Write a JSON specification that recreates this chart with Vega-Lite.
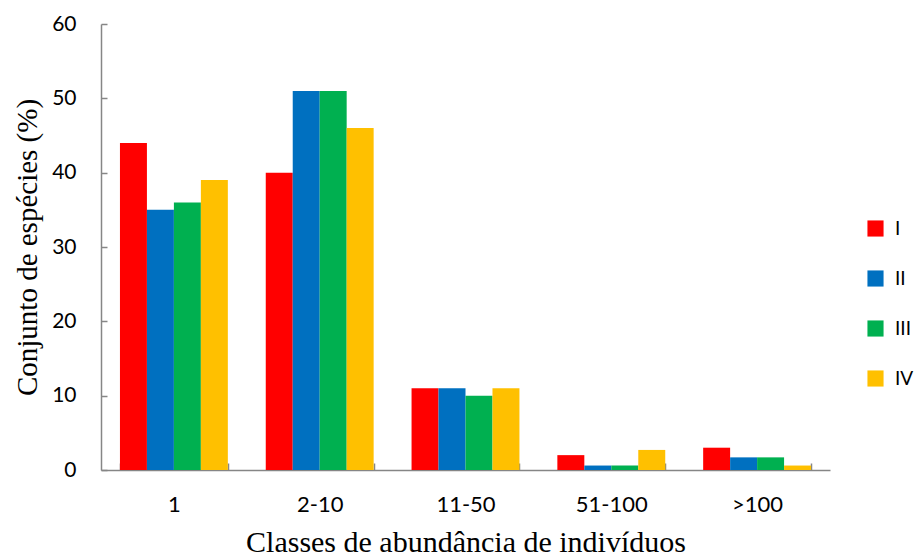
{
  "$schema": "https://vega.github.io/schema/vega-lite/v6.json",
  "autosize": "none",
  "width": 729,
  "height": 446,
  "padding": {"left": 101, "top": 24, "right": 89, "bottom": 90},
  "background": "white",
  "data": {"values": [
    {"classe": "1", "grupo": "I", "valor": 44},
    {"classe": "1", "grupo": "II", "valor": 35},
    {"classe": "1", "grupo": "III", "valor": 36},
    {"classe": "1", "grupo": "IV", "valor": 39},
    {"classe": "2-10", "grupo": "I", "valor": 40},
    {"classe": "2-10", "grupo": "II", "valor": 51},
    {"classe": "2-10", "grupo": "III", "valor": 51},
    {"classe": "2-10", "grupo": "IV", "valor": 46},
    {"classe": "11-50", "grupo": "I", "valor": 11},
    {"classe": "11-50", "grupo": "II", "valor": 11},
    {"classe": "11-50", "grupo": "III", "valor": 10},
    {"classe": "11-50", "grupo": "IV", "valor": 11},
    {"classe": "51-100", "grupo": "I", "valor": 2},
    {"classe": "51-100", "grupo": "II", "valor": 0.6},
    {"classe": "51-100", "grupo": "III", "valor": 0.6},
    {"classe": "51-100", "grupo": "IV", "valor": 2.7},
    {"classe": ">100", "grupo": "I", "valor": 3},
    {"classe": ">100", "grupo": "II", "valor": 1.7},
    {"classe": ">100", "grupo": "III", "valor": 1.7},
    {"classe": ">100", "grupo": "IV", "valor": 0.6}
  ]},
  "mark": {"type": "bar"},
  "encoding": {
    "x": {
      "field": "classe", "type": "nominal",
      "sort": ["1", "2-10", "11-50", "51-100", ">100"],
      "scale": {"paddingInner": 0.26, "paddingOuter": 0.13},
      "axis": {
        "title": "Classes de abundância de indivíduos",
        "titleFont": "Liberation Serif", "titleFontSize": 30, "titleFontWeight": "normal",
        "titleColor": "black", "titlePadding": 12,
        "labelAngle": 0, "labelFont": "Lato", "labelFontSize": 22, "labelColor": "black",
        "labelPadding": 31,
        "tickBand": "extent", "tickSize": -7, "tickColor": "#868686",
        "domainColor": "#868686", "domainWidth": 1.5, "tickWidth": 1.5
      }
    },
    "xOffset": {"field": "grupo", "type": "nominal", "scale": {"paddingInner": 0, "paddingOuter": 0}},
    "y": {
      "field": "valor", "type": "quantitative",
      "scale": {"domain": [0, 60]},
      "axis": {
        "values": [0, 10, 20, 30, 40, 50, 60],
        "grid": false,
        "title": "Conjunto de espécies  (%)",
        "titleFont": "Liberation Serif", "titleFontSize": 29, "titleFontWeight": "normal",
        "titleColor": "black", "titlePadding": 9,
        "labelFont": "Lato", "labelFontSize": 21, "labelColor": "black",
        "labelPadding": 31,
        "tickSize": -6, "tickColor": "#868686", "tickWidth": 1.5,
        "domainColor": "#868686", "domainWidth": 1.5
      }
    },
    "color": {
      "field": "grupo", "type": "nominal",
      "scale": {"domain": ["I", "II", "III", "IV"], "range": ["#FF0000", "#0070C0", "#00B050", "#FFC000"]},
      "legend": {
        "title": null, "orient": "none", "legendX": 765, "legendY": 195,
        "symbolType": "square", "symbolSize": 260, "symbolStrokeWidth": 0,
        "labelFont": "Lato", "labelFontSize": 19, "labelColor": "black",
        "rowPadding": 30, "labelOffset": 10
      }
    }
  },
  "config": {"view": {"stroke": null}}
}
